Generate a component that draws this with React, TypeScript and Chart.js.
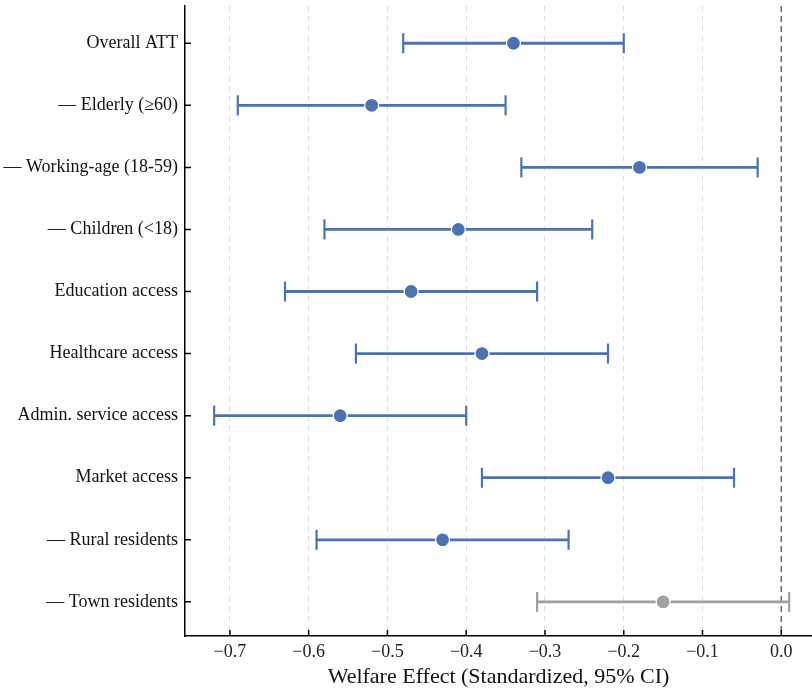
import React, { useEffect, useRef } from "react";
import { Chart, registerables } from "chart.js";
Chart.register(...registerables);

const categories = [
  "Overall ATT",
  "— Elderly (≥60)",
  "— Working-age (18-59)",
  "— Children (<18)",
  "Education access",
  "Healthcare access",
  "Admin. service access",
  "Market access",
  "— Rural residents",
  "— Town residents",
];
const estimates = [-0.34, -0.52, -0.18, -0.41, -0.47, -0.38, -0.56, -0.22, -0.43, -0.15];
const lowerCI = [-0.48, -0.69, -0.33, -0.58, -0.63, -0.54, -0.72, -0.38, -0.59, -0.31];
const upperCI = [-0.20, -0.35, -0.03, -0.24, -0.31, -0.22, -0.40, -0.06, -0.27, 0.01];
const significant = [true, true, true, true, true, true, true, true, true, false];
const xTicks = [-0.7, -0.6, -0.5, -0.4, -0.3, -0.2, -0.1, 0.0];

const X_MIN = -0.757;
const X_MAX = 0.039;
const Y_MIN = -0.6;
const Y_MAX = 9.55;

const BLUE = "#4C72B0";
const GRAY = "#A0A0A0";
const FONT = "'Liberation Serif', 'DejaVu Serif', serif";

const isXTick = (v: number) => xTicks.some((t) => Math.abs(t - v) < 1e-9);

const inwardTicks = {
  id: "inwardTicks",
  afterDraw(chart: any) {
    const ctx = chart.ctx;
    const { left, bottom } = chart.chartArea;
    const xs = chart.scales.x;
    const ys = chart.scales.y;
    ctx.save();
    ctx.strokeStyle = "#000";
    ctx.lineWidth = 1.5;
    ctx.beginPath();
    xTicks.forEach((v) => {
      const px = xs.getPixelForValue(v);
      ctx.moveTo(px, bottom);
      ctx.lineTo(px, bottom - 6);
    });
    categories.forEach((_, i) => {
      const py = ys.getPixelForValue(i);
      ctx.moveTo(left, py);
      ctx.lineTo(left + 6, py);
    });
    ctx.stroke();
    ctx.restore();
  },
};

export default function App() {
  const ref = useRef<HTMLCanvasElement | null>(null);
  useEffect(() => {
    if (!ref.current) return;
    const datasets: any[] = [];
    categories.forEach((_, i) => {
      const c = significant[i] ? BLUE : GRAY;
      datasets.push({
        type: "line",
        data: [
          { x: lowerCI[i], y: i },
          { x: upperCI[i], y: i },
        ],
        borderColor: c,
        borderWidth: 2.8,
        pointStyle: "line",
        rotation: 90,
        pointRadius: 10,
        pointBorderColor: c,
        pointBorderWidth: 2.2,
        order: 2,
      });
    });
    datasets.push({
      type: "scatter",
      data: estimates.map((v, i) => ({ x: v, y: i })),
      backgroundColor: significant.map((s) => (s ? BLUE : GRAY)),
      borderColor: "#ffffff",
      borderWidth: 1.2,
      pointRadius: 7,
      order: 1,
    });
    datasets.push({
      type: "line",
      data: [
        { x: 0, y: Y_MIN },
        { x: 0, y: Y_MAX },
      ],
      borderColor: "#666666",
      borderWidth: 1.5,
      borderDash: [6, 4],
      pointRadius: 0,
      order: 10,
    });
    const chart = new Chart(ref.current, {
      type: "scatter",
      data: { datasets },
      options: {
        animation: false,
        responsive: false,
        maintainAspectRatio: false,
        layout: { autoPadding: false, padding: { top: 6, right: 0, left: 0, bottom: 0 } },
        plugins: { legend: { display: false }, tooltip: { enabled: false } },
        scales: {
          x: {
            type: "linear",
            min: X_MIN,
            max: X_MAX,
            afterBuildTicks: (s: any) => {
              s.ticks = [X_MIN, ...xTicks, X_MAX].map((v) => ({ value: v }));
            },
            afterFit: (s: any) => {
              s.height = 54;
              s.paddingLeft = 0;
              s.paddingRight = 0;
            },
            ticks: {
              color: "#222",
              font: { family: FONT, size: 18 },
              padding: 5,
              callback: (v: any) => {
                const n = Number(v);
                if (!isXTick(n)) return "";
                const t = Math.abs(n).toFixed(1);
                return n < -1e-9 ? "\u2212" + t : t;
              },
            },
            grid: {
              drawTicks: false,
              color: (c: any) => {
                const v = c.tick?.value;
                if (v === undefined || !isXTick(v) || Math.abs(v) < 1e-9) return "rgba(0,0,0,0)";
                return "#dddddd";
              },
              lineWidth: 1,
            },
            border: { display: true, color: "#000", width: 1.5, dash: [5, 5] as any },
            title: {
              display: true,
              text: "Welfare Effect (Standardized, 95% CI)",
              color: "#111",
              font: { family: FONT, size: 22 },
              padding: { top: 0, bottom: 0 },
            },
          },
          y: {
            type: "linear",
            reverse: true,
            min: Y_MIN,
            max: Y_MAX,
            afterBuildTicks: (s: any) => {
              s.ticks = categories.map((_, i) => ({ value: i }));
            },
            afterFit: (s: any) => {
              s.width = 185;
              s.paddingTop = 0;
              s.paddingBottom = 0;
            },
            ticks: {
              color: "#111",
              font: { family: FONT, size: 18 },
              padding: 7,
              autoSkip: false,
              callback: (v: any) => {
                const n = Number(v);
                return Number.isInteger(n) ? categories[n] ?? "" : "";
              },
            },
            grid: { display: false, drawTicks: false },
            border: { display: true, color: "#000", width: 1.5 },
          },
        },
      },
      plugins: [inwardTicks],
    } as any);
    return () => chart.destroy();
  }, []);
  return (
    <div style={{ position: "absolute", left: 0, top: 0, width: 812, height: 690, background: "#fff", overflow: "hidden" }}>
      <canvas ref={ref} width={812} height={690} style={{ width: 812, height: 690 }} />
    </div>
  );
}
